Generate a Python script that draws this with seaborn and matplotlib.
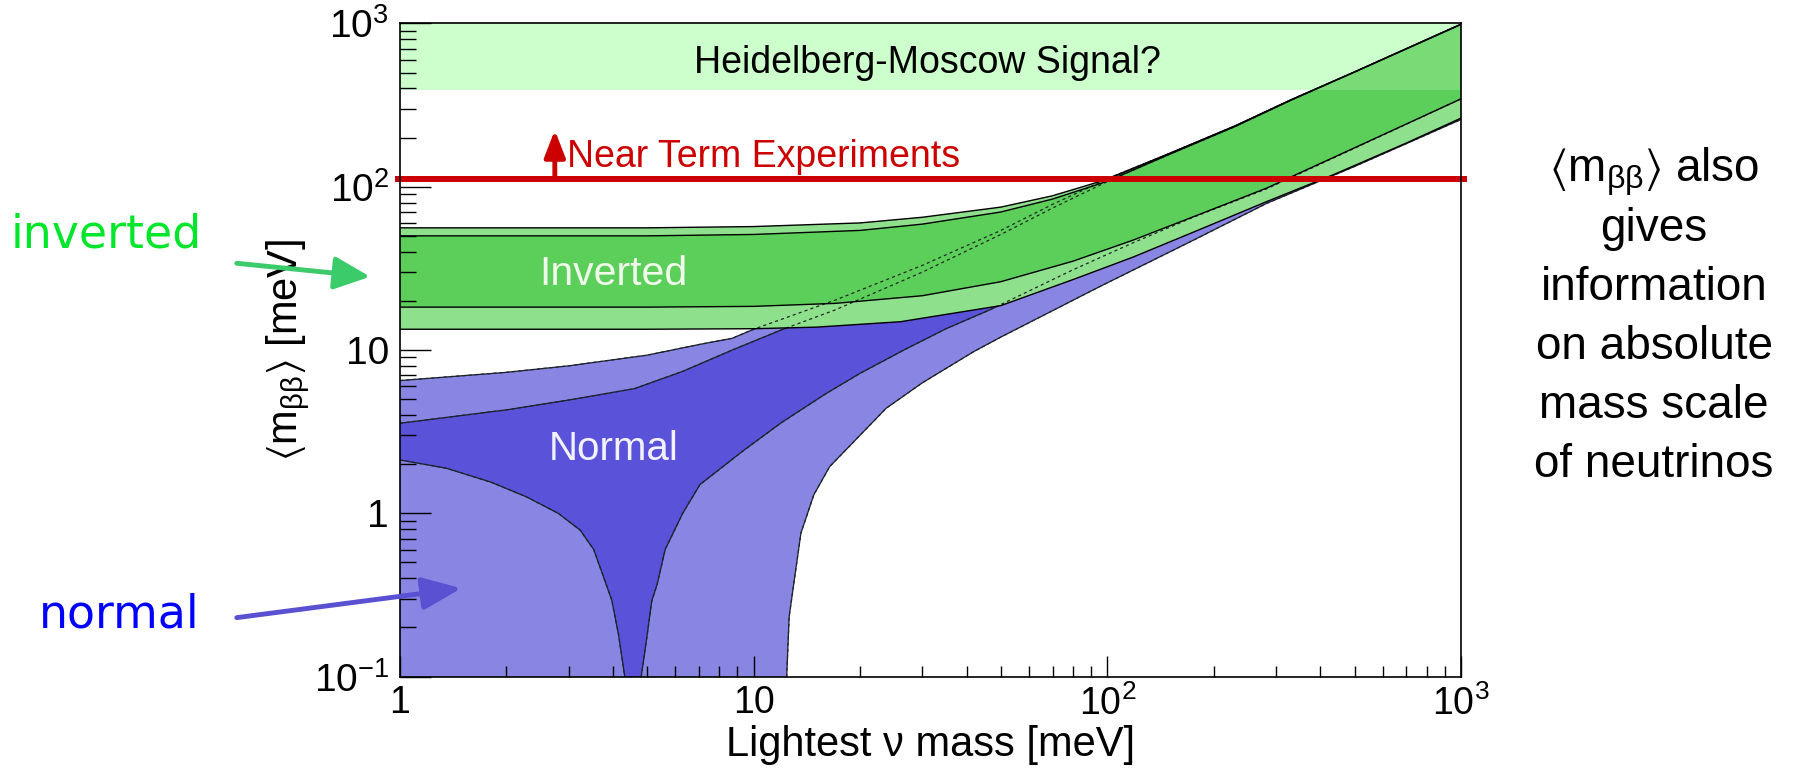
import numpy as np
import matplotlib
matplotlib.use("Agg")
import matplotlib.pyplot as plt
from matplotlib.patches import FancyArrowPatch
import seaborn as sns

# ---- allowed regions of <m_bb> (meV) versus lightest neutrino mass (meV) ----
# inverted hierarchy, outer (3 sigma) band
inv_out_hi_x = [1, 5, 10, 20, 30, 50, 70, 100, 150, 230, 330, 500, 1000]
inv_out_hi_y = [56, 56, 57, 60, 65, 75, 88, 111, 160, 236, 340, 505, 990]
inv_out_lo_x = [1, 5, 10, 15, 26, 50, 80, 118, 180, 282, 434, 700, 1000]
inv_out_lo_y = [13.4, 13.4, 13.5, 13.8, 14.9, 18.7, 27, 37, 54, 81, 118, 185, 263]
# inverted hierarchy, inner (best-fit) band
inv_in_hi_x = [1, 5, 10, 20, 30, 50, 70, 100, 150, 230, 330, 500, 1000]
inv_in_hi_y = [50, 50, 51, 54, 59, 70, 84, 108, 158, 234, 338, 503, 985]
inv_in_lo_x = [1, 5, 10, 17, 30, 50, 80, 118, 180, 282, 500, 1000]
inv_in_lo_y = [18.3, 18.3, 18.5, 19.3, 21.5, 26.2, 35, 47, 67, 98, 173, 345]

# normal hierarchy, outer band
nor_out_hi_x = [1, 2, 3, 5, 7, 8.7, 10, 17, 30, 50, 70, 104, 150, 230, 330, 500, 1000]
nor_out_hi_y = [6.5, 7.3, 8.0, 9.3, 10.8, 11.8, 13.4, 20.2, 33, 54, 78, 116, 160, 236, 340, 505, 990]
nor_out_lo_x = [1, 12.3, 12.4, 12.6, 13.6, 14.8, 16.4, 23.7, 30, 42, 50, 95, 175, 282, 500, 1000]
nor_out_lo_y = [0.01, 0.01, 0.1, 0.233, 0.755, 1.3, 1.93, 4.4, 6.3, 9.8, 12, 24.4, 47, 79, 133, 258]
# normal hierarchy, inner band
nor_in_hi_x = [1, 2, 3, 4.6, 6.3, 8.7, 12, 17, 30, 50, 70, 104, 150, 230, 330, 500, 1000]
nor_in_hi_y = [3.56, 4.3, 4.94, 5.8, 7.4, 10, 13.3, 17.6, 30, 51, 74, 112, 158, 234, 338, 503, 985]
nor_in_lo_x = [1, 1.35, 1.81, 2.28, 2.8, 3.23, 3.53, 3.97, 4.15, 4.32, 4.38,
               4.75, 4.81, 5.0, 5.15, 5.34, 5.62, 6.3, 7.05, 9.4, 12, 16, 20,
               26.6, 35, 46.5, 80, 120, 175, 282, 500, 1000]
nor_in_lo_y = [2.12, 1.89, 1.55, 1.26, 1.0, 0.79, 0.6, 0.294, 0.18, 0.1, 0.01,
               0.01, 0.1, 0.18, 0.29, 0.37, 0.6, 1.0, 1.5, 2.44, 3.6, 5.4, 7.2,
               10, 13.5, 17.6, 31, 46, 65, 97, 172, 345]

# claimed signal band and near-term sensitivity
hm_lo, hm_hi = 391, 1000
near_term = 111
near_arrow_x, near_arrow_top = 2.74, 222

x_ticks = [1, 10, 100, 1000]
x_ticklabels = ["1", "10", r"$10^{2}$", r"$10^{3}$"]
y_ticks = [0.1, 1, 10, 100, 1000]
y_ticklabels = [r"$10^{-1}$", "1", "10", r"$10^{2}$", r"$10^{3}$"]

side_lines = [r"$\langle\mathrm{m}_{\mathrm{ββ}}\rangle$ also", "gives", "information",
              "on absolute", "mass scale", "of neutrinos"]

# ---- colours ----
c_nor_out = "#8886e2"
c_nor_in = "#5a52d9"
c_inv_out = "#8fe08d"
c_inv_in = "#5ccf5a"
c_hm = "#ccffcc"
c_red = "#cc0000"

sns.set_theme(style="ticks")
plt.rcParams["font.family"] = ["Liberation Sans", "DejaVu Sans"]
plt.rcParams["mathtext.fontset"] = "custom"
plt.rcParams["mathtext.rm"] = "Liberation Sans"
plt.rcParams["mathtext.it"] = "Liberation Sans:italic"
plt.rcParams["mathtext.bf"] = "Liberation Sans:bold"
plt.rcParams["mathtext.sf"] = "Liberation Sans"
plt.rcParams["mathtext.fallback"] = "stixsans"

fig = plt.figure(figsize=(18, 7.76), dpi=100)
ax = fig.add_axes([400 / 1800, 1 - 676.6 / 776, 1061 / 1800, 653.2 / 776])
ax.set_xscale("log")
ax.set_yscale("log")
ax.set_xlim(1, 1000)
ax.set_ylim(0.1, 1000)


def band(xh, yh, xl, yl, color, z):
    px = np.concatenate([xh, xl[::-1]])
    py = np.concatenate([yh, yl[::-1]])
    ax.fill(px, py, color=color, lw=0, zorder=z)


xa = lambda v: np.asarray(v, dtype=float)

# signal band underneath everything
ax.axhspan(hm_lo, hm_hi, color=c_hm, lw=0, zorder=0.5)

# normal hierarchy
band(xa(nor_out_hi_x), xa(nor_out_hi_y), xa(nor_out_lo_x), xa(nor_out_lo_y), c_nor_out, 1.0)
band(xa(nor_in_hi_x), xa(nor_in_hi_y), xa(nor_in_lo_x), xa(nor_in_lo_y), c_nor_in, 1.1)
nor_curves = [(nor_out_hi_x, nor_out_hi_y), (nor_out_lo_x, nor_out_lo_y),
              (nor_in_hi_x, nor_in_hi_y), (nor_in_lo_x, nor_in_lo_y)]
for cx, cy in nor_curves:
    sns.lineplot(x=cx, y=cy, sort=False, estimator=None, color="#1c1c3a",
                 lw=0.9, ax=ax, zorder=1.2)

# inverted hierarchy on top
band(xa(inv_out_hi_x), xa(inv_out_hi_y), xa(inv_out_lo_x), xa(inv_out_lo_y), c_inv_out, 1.3)
band(xa(inv_in_hi_x), xa(inv_in_hi_y), xa(inv_in_lo_x), xa(inv_in_lo_y), c_inv_in, 1.4)

# normal-hierarchy edges running underneath the inverted band
for cx, cy in nor_curves:
    sns.lineplot(x=cx, y=cy, sort=False, estimator=None, color="#1c2a1c",
                 lw=0.9, ax=ax, zorder=1.5, linestyle=(0, (2.5, 2.5)))

# signal band tint over the green
ax.axhspan(hm_lo, hm_hi, color=c_hm, alpha=0.25, lw=0, zorder=1.55)

for cx, cy in [(inv_out_hi_x, inv_out_hi_y), (inv_out_lo_x, inv_out_lo_y),
               (inv_in_hi_x, inv_in_hi_y), (inv_in_lo_x, inv_in_lo_y)]:
    sns.lineplot(x=cx, y=cy, sort=False, estimator=None, color="black",
                 lw=1.0, ax=ax, zorder=1.6)

# near-term sensitivity line and arrow
ax.plot([0.968, 1040], [near_term, near_term], color=c_red, lw=4.3,
        solid_capstyle="butt", clip_on=False, zorder=5)
ax.annotate("", xy=(near_arrow_x, near_arrow_top), xytext=(near_arrow_x, near_term),
            arrowprops=dict(arrowstyle="-|>,head_length=0.9,head_width=0.35",
                            color=c_red, lw=3.5, mutation_scale=18,
                            shrinkA=0, shrinkB=0), zorder=5)
ax.text(2.97, 132, "Near Term Experiments", color=c_red, fontsize=27,
        ha="left", va="baseline", zorder=6)

ax.text(31, 497, "Heidelberg-Moscow Signal?", color="black", fontsize=27,
        ha="center", va="baseline", zorder=6)
ax.text(4.0, 25, "Inverted", color="#effaea", fontsize=29.5,
        ha="center", va="baseline", zorder=6)
ax.text(4.02, 2.12, "Normal", color="#f2f2ff", fontsize=29,
        ha="center", va="baseline", zorder=6)

# axes styling
ax.set_xticks(x_ticks, x_ticklabels)
ax.set_yticks(y_ticks, y_ticklabels)
ax.xaxis.set_minor_formatter(matplotlib.ticker.NullFormatter())
ax.yaxis.set_minor_formatter(matplotlib.ticker.NullFormatter())
ax.tick_params(axis="both", which="both", direction="in", colors="black",
               labelsize=28, width=1.0, top=False, right=False)
ax.tick_params(axis="x", which="major", length=15, pad=6, labelsize=27)
ax.tick_params(axis="x", which="minor", length=8)
ax.tick_params(axis="y", which="major", length=22, pad=8)
ax.tick_params(axis="y", which="minor", length=11.5)
for s in ax.spines.values():
    s.set_color("black")
    s.set_linewidth(1.2)
    s.set_zorder(10)
ax.xaxis.set_zorder(10)
ax.yaxis.set_zorder(10)

ax.set_xlabel("Lightest ν mass [meV]", fontsize=30, color="black")
ax.set_ylabel(r"$\langle\mathrm{m}_{\mathrm{ββ}}\rangle$ [meV]", fontsize=30, color="black")
ax.xaxis.set_label_coords(0.5, -0.074)
ax.yaxis.set_label_coords(-0.083, 0.5)

# side annotations
fig.text(11 / 1800, 1 - 247 / 776, "inverted", color="#00e62a", fontsize=33,
         family="DejaVu Sans", ha="left", va="baseline")
fig.text(39 / 1800, 1 - 628 / 776, "normal", color="#0000ff", fontsize=33,
         family="DejaVu Sans", ha="left", va="baseline")
fig.add_artist(FancyArrowPatch((234 / 1800, 1 - 263 / 776), (373 / 1800, 1 - 277 / 776),
                               transform=fig.transFigure,
                               arrowstyle="-|>,head_length=1.1,head_width=0.5",
                               mutation_scale=20, lw=3.5, color="#3ccb6a"))
fig.add_artist(FancyArrowPatch((234 / 1800, 1 - 618 / 776), (464 / 1800, 1 - 588 / 776),
                               transform=fig.transFigure,
                               arrowstyle="-|>,head_length=1.2,head_width=0.5",
                               mutation_scale=20, lw=3.5, color="#5a50d2"))

for i, line in enumerate(side_lines):
    fig.text(1654 / 1800, 1 - (182 + 59 * i) / 776, line, fontsize=33,
             color="black", ha="center", va="baseline")

fig.savefig("out.png", dpi=100)
